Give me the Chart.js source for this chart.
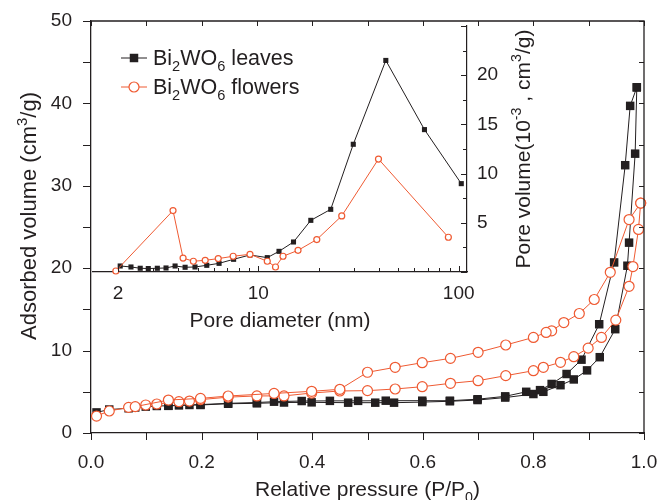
<!DOCTYPE html>
<html>
<head>
<meta charset="utf-8">
<script src="https://cdn.jsdelivr.net/npm/chart.js@4.4.1/dist/chart.umd.min.js"></script>
<style>
  html, body { margin: 0; padding: 0; background: #fff; }
  #wrap { position: relative; width: 660px; height: 500px; }
  #wrap canvas { position: absolute; left: 0; top: 0; }
</style>
</head>
<body>
<div id="wrap">
  <canvas id="main" width="660" height="500"></canvas>
  <canvas id="inset" width="660" height="500"></canvas>
</div>
<script>
// N2 isotherms: relative pressure (P/P0) vs adsorbed volume (cm3/g)
const leavesAdsP = [0.010, 0.033, 0.068, 0.080, 0.099, 0.119, 0.140, 0.159, 0.178, 0.198, 0.248, 0.300, 0.349, 0.399, 0.465, 0.514, 0.548, 0.599, 0.649, 0.699, 0.749, 0.800, 0.818, 0.849, 0.873, 0.897, 0.920, 0.948, 0.970, 0.973, 0.984, 0.987];
const leavesAdsV = [2.5, 2.85, 3.0, 3.1, 3.2, 3.28, 3.3, 3.35, 3.4, 3.4, 3.55, 3.6, 3.7, 3.72, 3.68, 3.68, 3.68, 3.75, 3.85, 4.0, 4.3, 4.73, 5.0, 5.8, 6.5, 7.6, 9.2, 12.6, 20.3, 23.1, 33.9, 41.95];
const leavesDesP = [0.987, 0.975, 0.966, 0.946, 0.919, 0.887, 0.860, 0.833, 0.812, 0.787, 0.749, 0.699, 0.649, 0.599, 0.533, 0.483, 0.432, 0.381, 0.331, 0.300, 0.248, 0.198, 0.140];
const leavesDesV = [41.95, 39.7, 32.5, 20.7, 13.2, 8.9, 7.16, 5.95, 5.2, 5.0, 4.45, 4.1, 3.92, 3.92, 3.92, 3.9, 3.9, 3.88, 3.8, 3.7, 3.6, 3.45, 3.3];

const flowersAdsP = [0.010, 0.033, 0.068, 0.099, 0.119, 0.159, 0.178, 0.198, 0.248, 0.300, 0.349, 0.399, 0.450, 0.500, 0.550, 0.599, 0.650, 0.700, 0.750, 0.800, 0.818, 0.849, 0.873, 0.899, 0.923, 0.949, 0.973, 0.980, 0.990, 0.994];
const flowersAdsV = [2.06, 2.67, 3.11, 3.4, 3.52, 3.8, 3.88, 4.05, 4.35, 4.5, 4.5, 4.85, 5.1, 5.14, 5.34, 5.62, 6.03, 6.35, 6.96, 7.56, 7.97, 8.58, 9.26, 10.3, 11.6, 13.7, 17.8, 20.2, 24.7, 27.9];
const flowersDesP = [0.994, 0.973, 0.939, 0.910, 0.883, 0.855, 0.833, 0.823, 0.800, 0.750, 0.700, 0.650, 0.599, 0.550, 0.500, 0.450, 0.399, 0.331, 0.248, 0.198, 0.140, 0.080];
const flowersDesV = [27.9, 25.9, 19.5, 16.2, 14.5, 13.4, 12.4, 12.2, 11.6, 10.68, 9.79, 9.06, 8.53, 7.97, 7.37, 5.3, 5.06, 4.8, 4.49, 4.2, 4.0, 3.2];

// inset: pore size distribution, diameter (nm) vs pore volume (10^-3 cm3/g)
const leavesPoreD = [2.05, 2.32, 2.58, 2.83, 3.14, 3.47, 3.85, 4.32, 4.84, 5.54, 6.38, 7.54, 9.1, 11.1, 12.7, 15.0, 18.3, 23.0, 29.8, 43.3, 67.5, 103];
const leavesPoreV = [0.61, 0.51, 0.38, 0.35, 0.38, 0.41, 0.61, 0.48, 0.51, 0.68, 0.88, 1.29, 1.73, 1.46, 2.1, 3.05, 5.25, 6.37, 12.98, 21.5, 14.47, 8.98];
const flowersPoreD = [1.95, 3.76, 4.22, 4.75, 5.44, 6.32, 7.5, 9.1, 11.1, 12.2, 13.3, 15.8, 19.6, 26.1, 39.8, 88.8];
const flowersPoreV = [0.1, 6.24, 1.42, 1.09, 1.19, 1.36, 1.6, 1.8, 1.09, 0.51, 1.6, 2.2, 3.3, 5.7, 11.48, 3.53];

// tick values
const mainXMajor = [0, 0.2, 0.4, 0.6, 0.8, 1.0];
const mainXMinor = [0.1, 0.3, 0.5, 0.7, 0.9];
const mainYMajor = [0, 10, 20, 30, 40, 50];
const mainYMinor = [5, 15, 25, 35, 45];
const insetXMajor = [2, 10, 100];
const insetXMinor = [3, 4, 5, 6, 7, 8, 9, 20, 30, 40, 50, 60, 70, 80, 90];
const insetYMajor = [5, 10, 15, 20];
const insetYMinor = [2.5, 7.5, 12.5, 17.5, 22.5];

const FONT = "'Liberation Sans', Arial, Helvetica, sans-serif";
const INK = '#231f20';
const RED = '#ef5a32';

const pts = (xs, ys) => xs.map((x, i) => ({ x: x, y: ys[i] }));

function squareSet(label, xs, ys, r) {
  return {
    label: label, data: pts(xs, ys), showLine: true, clip: false,
    borderColor: INK, borderWidth: 1,
    pointStyle: 'rect', pointRadius: r, pointBackgroundColor: INK, pointBorderWidth: 0
  };
}
function circleSet(label, xs, ys, r) {
  return {
    label: label, data: pts(xs, ys), showLine: true, clip: false,
    borderColor: RED, borderWidth: 1,
    pointStyle: 'circle', pointRadius: r, pointBackgroundColor: '#fff',
    pointBorderColor: RED, pointBorderWidth: 1.2
  };
}

// fixed scale box, no extra padding for overhanging labels
function fixBox(s, size) {
  if (s.isHorizontal()) s.height = size; else s.width = size;
  s.paddingTop = 0; s.paddingBottom = 0; s.paddingLeft = 0; s.paddingRight = 0;
}

// text with sub/superscripts, parts = [[text, shift]] (shift -1 sub, 1 sup)
function richText(ctx, parts, x, y, size, align) {
  const fontFor = s => (s ? size * 0.68 : size) + 'px ' + FONT;
  let w = 0;
  parts.forEach(([t, s]) => { ctx.font = fontFor(s); w += ctx.measureText(t).width; });
  let cx = align === 'center' ? x - w / 2 : x;
  ctx.textAlign = 'left';
  ctx.textBaseline = 'alphabetic';
  ctx.fillStyle = INK;
  parts.forEach(([t, s]) => {
    ctx.font = fontFor(s);
    const dy = s < 0 ? size * 0.28 : s > 0 ? -size * 0.42 : 0;
    ctx.fillText(t, cx, y + dy);
    cx += ctx.measureText(t).width;
  });
}

function hTicks(ctx, scale, values, y, len) {
  ctx.beginPath();
  values.forEach(v => {
    const px = Math.round(scale.getPixelForValue(v)) + 0.5;
    ctx.moveTo(px, y);
    ctx.lineTo(px, y + len);
  });
  ctx.stroke();
}
function vTicks(ctx, scale, values, x, len) {
  ctx.beginPath();
  values.forEach(v => {
    const py = Math.round(scale.getPixelForValue(v)) + 0.5;
    ctx.moveTo(x, py);
    ctx.lineTo(x + len, py);
  });
  ctx.stroke();
}

const tickFont = { family: FONT, size: 19 };

const mainDecor = {
  id: 'mainDecor',
  afterDraw(chart) {
    const ctx = chart.ctx, a = chart.chartArea, x = chart.scales.x, y = chart.scales.y;
    ctx.save();
    ctx.strokeStyle = INK;
    ctx.lineWidth = 1.3;
    ctx.beginPath();
    ctx.moveTo(a.left, a.top);
    ctx.lineTo(a.right, a.top);
    ctx.lineTo(a.right, a.bottom);
    ctx.stroke();
    ctx.lineWidth = 1;
    hTicks(ctx, x, mainXMajor.concat(mainXMinor), a.bottom, 7);
    hTicks(ctx, x, mainXMajor.concat(mainXMinor), a.top, 5);
    vTicks(ctx, y, mainYMajor.concat(mainYMinor), a.left, -8);
    vTicks(ctx, y, mainYMajor.concat(mainYMinor), a.right, -5);
    richText(ctx, [['Relative pressure (P/P', 0], ['0', -1], [')', 0]], (a.left + a.right) / 2, 496, 21, 'center');
    ctx.translate(36, 216);
    ctx.rotate(-Math.PI / 2);
    richText(ctx, [['Adsorbed volume (cm', 0], ['3', 1], ['/g)', 0]], 0, 0, 22, 'center');
    ctx.restore();
  }
};

const insetDecor = {
  id: 'insetDecor',
  afterDraw(chart) {
    const ctx = chart.ctx, a = chart.chartArea, x = chart.scales.x, y = chart.scales.y;
    ctx.save();
    ctx.strokeStyle = INK;
    ctx.lineWidth = 1;
    hTicks(ctx, x, insetXMajor, a.bottom, -6);
    hTicks(ctx, x, insetXMinor, a.bottom, -4);
    vTicks(ctx, y, insetYMajor.concat([0, 25]), a.right, -6);
    vTicks(ctx, y, insetYMinor, a.right, -4);
    richText(ctx, [['Pore diameter (nm)', 0]], (a.left + a.right) / 2, 327, 21, 'center');

    // legend
    const rows = [
      { y: 58, name: ' leaves', ds: chart.data.datasets[1] },
      { y: 87, name: ' flowers', ds: chart.data.datasets[0] }
    ];
    rows.forEach(r => {
      ctx.strokeStyle = r.ds.borderColor;
      ctx.lineWidth = 1;
      ctx.beginPath();
      ctx.moveTo(121, r.y);
      ctx.lineTo(147, r.y);
      ctx.stroke();
      ctx.fillStyle = r.ds.pointBackgroundColor;
      ctx.strokeStyle = r.ds.pointBorderColor || r.ds.borderColor;
      ctx.lineWidth = r.ds.pointBorderWidth || 1;
      Chart.helpers.drawPoint(ctx, {
        pointStyle: r.ds.pointStyle, radius: r.ds.pointStyle === 'rect' ? 6 : 5,
        borderWidth: r.ds.pointBorderWidth || 0
      }, 134, r.y);
      richText(ctx, [['Bi', 0], ['2', -1], ['WO', 0], ['6', -1], [r.name, 0]], 153, r.y + 7, 21.5, 'left');
    });

    ctx.translate(530, (a.top + a.bottom) / 2);
    ctx.rotate(-Math.PI / 2);
    richText(ctx, [['Pore volume(10', 0], ['-3', 1], [' , cm', 0], ['3', 1], ['/g)', 0]], 0, 0, 21, 'center');
    ctx.restore();
  }
};

new Chart(document.getElementById('main'), {
  type: 'scatter',
  data: {
    datasets: [
      circleSet('flowers des', flowersDesP, flowersDesV, 5),
      circleSet('flowers ads', flowersAdsP, flowersAdsV, 5),
      squareSet('leaves des', leavesDesP, leavesDesV, 6),
      squareSet('leaves ads', leavesAdsP, leavesAdsV, 6)
    ]
  },
  options: {
    responsive: false,
    animation: false,
    events: [],
    layout: { padding: { left: 0, top: 21, right: 16, bottom: 0 } },
    plugins: { legend: { display: false }, tooltip: { enabled: false } },
    scales: {
      x: {
        type: 'linear', position: 'bottom', min: 0, max: 1,
        afterBuildTicks: s => { s.ticks = mainXMajor.map(v => ({ value: v })); },
        afterFit: s => fixBox(s, 67),
        ticks: { font: tickFont, color: INK, padding: 18, maxRotation: 0, autoSkip: false,
                 callback: v => v.toFixed(1) },
        grid: { display: false, drawTicks: false },
        border: { display: true, color: INK, width: 1.3 }
      },
      y: {
        type: 'linear', position: 'left', min: 0, max: 50,
        afterBuildTicks: s => { s.ticks = mainYMajor.map(v => ({ value: v })); },
        afterFit: s => fixBox(s, 91),
        ticks: { font: tickFont, color: INK, padding: 19, callback: v => String(v) },
        grid: { display: false, drawTicks: false },
        border: { display: true, color: INK, width: 1.3 }
      }
    }
  },
  plugins: [mainDecor]
});

new Chart(document.getElementById('inset'), {
  type: 'scatter',
  data: {
    datasets: [
      circleSet('Bi2WO6 flowers', flowersPoreD, flowersPoreV, 3),
      squareSet('Bi2WO6 leaves', leavesPoreD, leavesPoreV, 3.6)
    ]
  },
  options: {
    responsive: false,
    animation: false,
    events: [],
    layout: { padding: { left: 93, top: 26, right: 0, bottom: 0 } },
    plugins: { legend: { display: false }, tooltip: { enabled: false } },
    scales: {
      x: {
        type: 'logarithmic', position: 'bottom', min: 1.5, max: 110,
        afterBuildTicks: s => { s.ticks = insetXMajor.map(v => ({ value: v })); },
        afterFit: s => fixBox(s, 228),
        ticks: { font: tickFont, color: INK, padding: 10, maxRotation: 0, autoSkip: false,
                 callback: v => String(v) },
        grid: { display: false, drawTicks: false },
        border: { display: true, color: INK, width: 1.2 }
      },
      y: {
        type: 'linear', position: 'right', min: 0, max: 25,
        afterBuildTicks: s => { s.ticks = insetYMajor.map(v => ({ value: v })); },
        afterFit: s => fixBox(s, 193),
        ticks: { font: tickFont, color: INK, padding: 10, callback: v => String(v) },
        grid: { display: false, drawTicks: false },
        border: { display: true, color: INK, width: 1.2 }
      }
    }
  },
  plugins: [insetDecor]
});
</script>
</body>
</html>
